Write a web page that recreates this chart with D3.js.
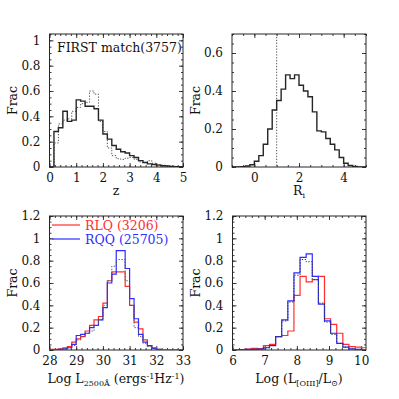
<!DOCTYPE html>
<html><head><meta charset="utf-8">
<script src="https://cdn.jsdelivr.net/npm/d3@7"></script>
<style>body{margin:0;background:#fff}</style>
</head><body>
<svg id="c" width="399" height="399" xmlns="http://www.w3.org/2000/svg"></svg>
<script>
// ---------------- data ----------------
// Panel 1: redshift histograms (30 bins of 1/6 from z=0)
const zBinStart = 0, zBinWidth = 1/6;
const zFirst = [0,0.28,0.31,0.44,0.36,0.37,0.53,0.52,0.48,0.48,0.46,0.37,0.26,0.22,0.17,0.14,0.12,0.11,0.09,0.075,0.05,0.035,0.025,0.02,0.015,0.01,0.008,0.005,0.003,0.002];
const zAll   = [0,0.19,0.34,0.37,0.38,0.44,0.47,0.50,0.51,0.60,0.575,0.36,0.28,0.15,0.09,0.065,0.06,0.07,0.075,0.06,0.04,0.035,0.05,0.03,0.02,0.015,0.01,0.005,0.003,0];
const zTitle = "FIRST match(3757)";
// Panel 2: radio loudness R_i (bins of 0.2 from -1)
const riBinStart = -1, riBinWidth = 0.2;
const riValues = [0,0,0.002,0.005,0.012,0.03,0.06,0.12,0.20,0.30,0.35,0.41,0.485,0.465,0.485,0.43,0.40,0.37,0.29,0.19,0.185,0.15,0.12,0.09,0.05,0.02,0.008,0.003,0,0];
const riCut = 1;
// Panel 3: Log L2500 (bins of 1/6 from 28)
const luvBinStart = 28, luvBinWidth = 1/6;
const luvRLQ = [0.005,0.005,0.01,0.02,0.03,0.07,0.10,0.12,0.17,0.22,0.27,0.30,0.42,0.62,0.70,0.70,0.70,0.57,0.40,0.25,0.19,0.09,0.04,0.02,0.005,0,0,0,0,0];
const luvRQQ = [0.002,0.003,0.005,0.01,0.02,0.05,0.13,0.14,0.15,0.20,0.22,0.27,0.38,0.60,0.68,0.89,0.89,0.73,0.46,0.28,0.14,0.07,0.04,0.015,0.005,0,0,0,0,0];
const luvAll = [0,0,0.003,0.008,0.02,0.04,0.09,0.12,0.15,0.17,0.22,0.27,0.40,0.62,0.75,0.81,0.81,0.62,0.40,0.20,0.12,0.06,0.03,0.01,0.003,0,0,0,0,0];
// Panel 4: Log L[OIII]/Lsun
const oiiiBinStart = 6.01, oiiiBinWidth = 0.19;
const oiiiRLQ = [0,0.003,0.008,0.015,0.012,0.04,0.05,0.12,0.13,0.17,0.49,0.66,0.61,0.63,0.66,0.28,0.23,0.15,0.05,0.03,0.025,0.02];
const oiiiRQQ = [0,0.003,0.005,0.005,0.008,0.02,0.04,0.12,0.27,0.44,0.69,0.83,0.86,0.66,0.41,0.26,0.15,0.06,0.025,0.01,0.005,0];
const oiiiAll = [0,0.002,0.004,0.005,0.008,0.02,0.04,0.12,0.26,0.43,0.67,0.81,0.79,0.63,0.42,0.25,0.14,0.06,0.025,0.01,0.005,0];
const legendLabels = ["RLQ (3206)", "RQQ (25705)"];
// tick labels
const p1XTicks = [0,1,2,3,4,5], p1YTicks = [0,0.2,0.4,0.6,0.8,1];
const p2XTicks = [0,2,4],       p2YTicks = [0,0.2,0.4,0.6];
const p3XTicks = [28,29,30,31,32,33], p3YTicks = [0,0.2,0.4,0.6,0.8,1,1.2];
const p4XTicks = [6,7,8,9,10],  p4YTicks = [0,0.2,0.4,0.6,0.8,1,1.2];

// ---------------- drawing ----------------
const svg = d3.select("#c");
const FONT = "DejaVu Serif";
const RED = "#ff2d2d", BLUE = "#2d2dff", INK = "#262626";
const fmt = d => String(+(+d).toFixed(2));

function minorRange(a, b, step) {
  const n = Math.round((b - a) / step);
  const out = [];
  for (let i = 0; i <= n; i++) out.push(+(a + i * step).toFixed(4));
  return out;
}

function makePanel(o) {
  const x = d3.scaleLinear().domain(o.xd).range([o.x0, o.x1]);
  const y = d3.scaleLinear().domain(o.yd).range([o.y1, o.y0]);
  const g = svg.append("g");
  const id = "clip" + o.id;
  svg.append("clipPath").attr("id", id).append("rect")
    .attr("x", o.x0).attr("y", o.y0).attr("width", o.x1 - o.x0).attr("height", o.y1 - o.y0);

  const xMinor = minorRange(o.xd[0], o.xd[1], o.xMinor).filter(v => v >= o.xd[0] - 1e-9 && v <= o.xd[1] + 1e-9);
  const yMinor = minorRange(o.yd[0], o.yd[1], o.yMinor);
  const style = sel => {
    sel.select(".domain").remove();
    sel.selectAll("line").attr("stroke", INK).attr("stroke-width", 0.9);
    sel.selectAll("text").attr("font-family", FONT).attr("font-size", 12).attr("fill", "#111");
  };
  // bottom
  g.append("g").attr("transform", `translate(0,${o.y1})`)
    .call(d3.axisBottom(x).tickValues(xMinor).tickFormat("").tickSize(-2)).call(style);
  g.append("g").attr("transform", `translate(0,${o.y1})`)
    .call(d3.axisBottom(x).tickValues(o.xTicks).tickFormat(fmt).tickSize(-4).tickPadding(6)).call(style);
  // top
  g.append("g").attr("transform", `translate(0,${o.y0})`)
    .call(d3.axisTop(x).tickValues(xMinor).tickFormat("").tickSize(-2)).call(style);
  g.append("g").attr("transform", `translate(0,${o.y0})`)
    .call(d3.axisTop(x).tickValues(o.xTicks).tickFormat("").tickSize(-4)).call(style);
  // left
  g.append("g").attr("transform", `translate(${o.x0},0)`)
    .call(d3.axisLeft(y).tickValues(yMinor).tickFormat("").tickSize(-2)).call(style);
  g.append("g").attr("transform", `translate(${o.x0},0)`)
    .call(d3.axisLeft(y).tickValues(o.yTicks).tickFormat(fmt).tickSize(-4).tickPadding(9)).call(style);
  // right
  g.append("g").attr("transform", `translate(${o.x1},0)`)
    .call(d3.axisRight(y).tickValues(yMinor).tickFormat("").tickSize(-2)).call(style);
  g.append("g").attr("transform", `translate(${o.x1},0)`)
    .call(d3.axisRight(y).tickValues(o.yTicks).tickFormat("").tickSize(-4)).call(style);

  // frame
  g.append("rect").attr("x", o.x0).attr("y", o.y0).attr("width", o.x1 - o.x0).attr("height", o.y1 - o.y0)
    .attr("fill", "none").attr("stroke", INK).attr("stroke-width", 1);

  // Frac label
  g.append("text").attr("transform", `translate(${o.fracX},${(o.y0 + o.y1) / 2}) rotate(-90)`)
    .attr("text-anchor", "middle").attr("dy", "0.35em")
    .attr("font-family", FONT).attr("font-size", 12.5).attr("fill", "#111").text("Frac");

  const plot = g.append("g").attr("clip-path", `url(#${id})`);
  return { x, y, g, plot };
}

function hist(p, start, width, vals, color, sw, dash) {
  const pts = [[start, 0]];
  vals.forEach((v, i) => pts.push([start + i * width, v]));
  pts.push([start + vals.length * width, vals[vals.length - 1]]);
  pts.push([start + vals.length * width, 0]);
  const line = d3.line().x(d => p.x(d[0])).y(d => p.y(d[1])).curve(d3.curveStepAfter);
  p.plot.append("path").attr("d", line(pts)).attr("fill", "none")
    .attr("stroke", color).attr("stroke-width", sw)
    .attr("stroke-dasharray", dash || null).attr("stroke-linejoin", "miter");
}

// Panel 1
const P1 = makePanel({ id: 1, x0: 49.5, x1: 183, y0: 34, y1: 167, xd: [0, 5], yd: [0, 1.05],
  xTicks: p1XTicks, yTicks: p1YTicks, xMinor: 0.2, yMinor: 0.05, fracX: 13 });
hist(P1, zBinStart, zBinWidth, zAll, "#555", 1, "1.3,1.6");
hist(P1, zBinStart, zBinWidth, zFirst, INK, 1.4);
P1.g.append("text").attr("x", 57).attr("y", 51.5).attr("font-family", FONT).attr("font-size", 12.5)
  .attr("fill", "#111").text(zTitle);
P1.g.append("text").attr("x", 116).attr("y", 195).attr("text-anchor", "middle")
  .attr("font-family", FONT).attr("font-size", 12.5).attr("fill", "#111").text("z");

// Panel 2
const P2 = makePanel({ id: 2, x0: 232, x1: 366, y0: 34, y1: 167, xd: [-1, 5], yd: [0, 0.7],
  xTicks: p2XTicks, yTicks: p2YTicks, xMinor: 0.5, yMinor: 0.05, fracX: 196 });
P2.plot.append("line").attr("x1", P2.x(riCut)).attr("x2", P2.x(riCut)).attr("y1", 34).attr("y2", 167)
  .attr("stroke", "#444").attr("stroke-width", 0.9).attr("stroke-dasharray", "1.3,1.6");
hist(P2, riBinStart, riBinWidth, riValues, INK, 1.4);
{
  const t = P2.g.append("text").attr("x", 299).attr("y", 195).attr("text-anchor", "middle")
    .attr("font-family", FONT).attr("font-size", 12.5).attr("fill", "#111");
  t.append("tspan").text("R");
  t.append("tspan").attr("font-size", 8).attr("dy", 3).text("i");
}

// Panel 3
const P3 = makePanel({ id: 3, x0: 49.5, x1: 183, y0: 216, y1: 350, xd: [28, 33], yd: [0, 1.2],
  xTicks: p3XTicks, yTicks: p3YTicks, xMinor: 0.2, yMinor: 0.05, fracX: 13 });
hist(P3, luvBinStart, luvBinWidth, luvRLQ, RED, 1.2);
hist(P3, luvBinStart, luvBinWidth, luvRQQ, BLUE, 1.2);
hist(P3, luvBinStart, luvBinWidth, luvAll, "#555", 1, "1.3,1.6");
[RED, BLUE].forEach((c, i) => {
  const yy = 225 + i * 14;
  P3.g.append("line").attr("x1", 52).attr("x2", 80).attr("y1", yy).attr("y2", yy)
    .attr("stroke", c).attr("stroke-width", 1.2);
  P3.g.append("text").attr("x", 85).attr("y", yy + 4.5).attr("font-family", FONT).attr("font-size", 12.5)
    .attr("fill", c).text(legendLabels[i]);
});
{
  const t = P3.g.append("text").attr("x", 116).attr("y", 383).attr("text-anchor", "middle")
    .attr("font-family", FONT).attr("font-size", 12.5).attr("fill", "#111");
  t.append("tspan").text("Log L");
  t.append("tspan").attr("font-size", 8).attr("dy", 3).text("2500Å");
  t.append("tspan").attr("dy", -3).text(" (ergs");
  t.append("tspan").attr("font-size", 8).attr("dy", -4).text("-1");
  t.append("tspan").attr("dy", 4).text("Hz");
  t.append("tspan").attr("font-size", 8).attr("dy", -4).text("-1");
  t.append("tspan").attr("dy", 4).text(")");
}

// Panel 4
const P4 = makePanel({ id: 4, x0: 232.5, x1: 366, y0: 216, y1: 350, xd: [6, 10.15], yd: [0, 1.2],
  xTicks: p4XTicks, yTicks: p4YTicks, xMinor: 0.2, yMinor: 0.05, fracX: 196 });
hist(P4, oiiiBinStart, oiiiBinWidth, oiiiRLQ, RED, 1.2);
hist(P4, oiiiBinStart, oiiiBinWidth, oiiiRQQ, BLUE, 1.2);
hist(P4, oiiiBinStart, oiiiBinWidth, oiiiAll, "#333", 1, "1.3,1.6");
{
  const t = P4.g.append("text").attr("x", 299).attr("y", 383).attr("text-anchor", "middle")
    .attr("font-family", FONT).attr("font-size", 12.5).attr("fill", "#111");
  t.append("tspan").text("Log  (L");
  t.append("tspan").attr("font-size", 8).attr("dy", 3).text("[OIII]");
  t.append("tspan").attr("dy", -3).text("/L");
  t.append("tspan").attr("font-size", 8).attr("dy", 3).text("⊙");
  t.append("tspan").attr("dy", -3).text(")");
}
</script>
</body></html>
